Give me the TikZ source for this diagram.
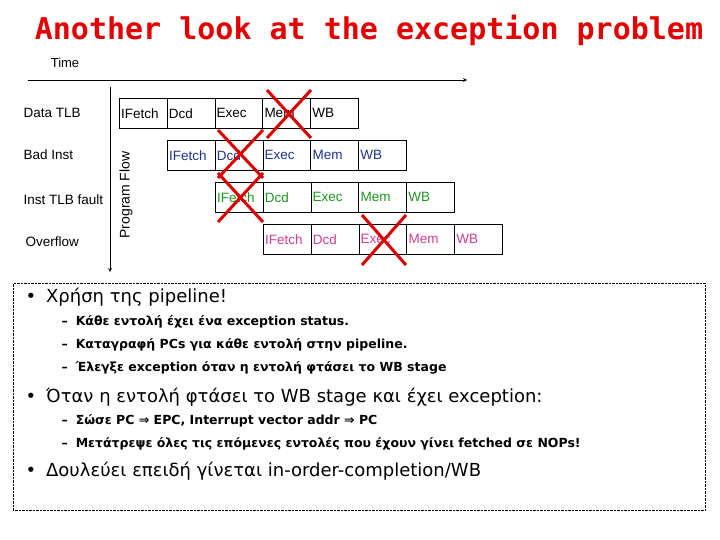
\documentclass[tikz,border=0pt]{standalone}
\usepackage{fontspec}
\setmainfont{Liberation Sans}
\newfontfamily\titlefont{DejaVu Sans Mono}
\newfontfamily\greekfont{DejaVu Sans}
\usetikzlibrary{positioning}
\tikzstyle{stage} = [rectangle, minimum width=47.8pt, minimum height=30pt, text width=44pt, align=left, draw=black, inner sep=1.5pt, font=\fontsize{13.5}{15}\selectfont, anchor=north west]
\tikzstyle{rowlabel} = [anchor=west, font=\fontsize{13.5}{15}\selectfont]
\tikzstyle{arrow} = [thick,->,>=stealth]
\tikzstyle{cross} = [red!85!black, line width=3pt]
\tikzstyle{bullet} = [anchor=west, font=\greekfont\fontsize{18}{21}\selectfont]
\tikzstyle{subitem} = [anchor=west, font=\greekfont\bfseries\fontsize{12.5}{15}\selectfont]
\definecolor{rowblue}{RGB}{30,50,140}
\definecolor{rowgreen}{RGB}{30,150,30}
\definecolor{rowpink}{RGB}{210,60,150}

\begin{document}
\begin{tikzpicture}[x=1pt, y=-1pt]
\useasboundingbox (0,0) rectangle (720,540);

% Title
\node (title) [text=red!90!black, font=\titlefont\bfseries\fontsize{30}{34}\selectfont] at (369,30) {Another look at the exception problem};

% Axes
\node (time) [font=\fontsize{13}{15}\selectfont] at (65,63) {Time};
\coordinate (t0) at (28,80);
\coordinate (t1) at (467,80);
\draw [arrow] (t0) -- (t1);
\coordinate (p0) at (110,87);
\coordinate (p1) at (110,272);
\draw [arrow] (p0) -- (p1);
\node (flow) [rotate=90, font=\fontsize{14}{16}\selectfont] at (126,195) {Program Flow};

% Row labels
\node (l1) [rowlabel] at (20,113) {Data TLB};
\node (l2) [rowlabel] at (20,155) {Bad Inst};
\node (l3) [rowlabel] at (20,200) {Inst TLB fault};
\node (l4) [rowlabel] at (22,242) {Overflow};

% Pipeline stages
\foreach \r/\x/\y/\col in {1/119/98/black, 2/167/140/rowblue, 3/215/182/rowgreen, 4/263/224/rowpink} {
  \foreach \s [count=\i from 0] in {IFetch, Dcd, Exec, Mem, WB} {
    \node (s\r\i) [stage, text=\col] at ({\x+47.8*\i},\y) {\s};
  }
}

% Crosses
\draw [cross] (267,90) -- (311,138) (311,90) -- (267,138);
\draw [cross] (218,130) -- (263,178) (263,130) -- (218,178);
\draw [cross] (218,173) -- (263,222) (263,173) -- (218,222);
\draw [cross] (362,215) -- (406,265) (406,215) -- (362,265);

% Text box
\node (box) [draw, densely dotted, minimum width=692pt, minimum height=227pt, anchor=north west] at (13,283) {};
\node (b1) [bullet] at (22,297) {•\hspace{10pt}Χρήση της pipeline!};
\node (b11) [subitem] at (58,322) {–\hspace{8pt}Κάθε εντολή έχει ένα exception status.};
\node (b12) [subitem] at (58,345) {–\hspace{8pt}Καταγραφή PCs για κάθε εντολή στην pipeline.};
\node (b13) [subitem] at (58,368) {–\hspace{8pt}Έλεγξε exception όταν η εντολή φτάσει το WB stage};
\node (b2) [bullet] at (22,397) {•\hspace{10pt}Όταν η εντολή φτάσει το WB stage και έχει exception:};
\node (b21) [subitem] at (58,421) {–\hspace{8pt}Σώσε PC ⇒ EPC, Interrupt vector addr ⇒ PC};
\node (b22) [subitem] at (58,444) {–\hspace{8pt}Μετάτρεψε όλες τις επόμενες εντολές που έχουν γίνει fetched σε NOPs!};
\node (b3) [bullet] at (22,471) {•\hspace{10pt}Δουλεύει επειδή γίνεται in-order-completion/WB};

\end{tikzpicture}
\end{document}
